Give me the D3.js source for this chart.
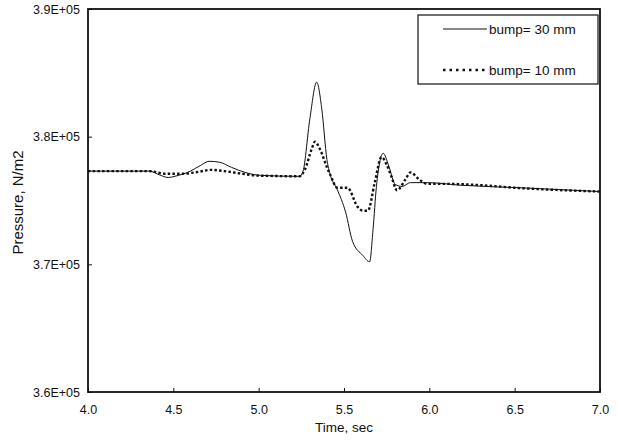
<!DOCTYPE html>
<html>

<head>
    <style>
        body { margin: 0; background: #fff; }
        text { font-family: "Liberation Sans", Arial, sans-serif; fill: #111; }
    </style>
</head>

<body>
    <script src="https://d3js.org/d3.v7.min.js"></script>
    <div id="chart"></div>
    <script>
        const width = 618
        const height = 441
        const padding = { top: 9, left: 88, right: 18, bottom: 49 }

        // time (sec) and pressure (N/m2)
        const time30 = [4.0, 4.36, 4.42, 4.47, 4.51, 4.60, 4.66, 4.71, 4.77, 4.84, 4.92, 5.01, 5.24, 5.26, 5.30, 5.34, 5.37, 5.40, 5.42, 5.46, 5.51, 5.55, 5.61, 5.65, 5.67, 5.69, 5.73, 5.76, 5.80, 5.84, 5.89, 5.99, 6.18, 6.53, 7.0]
        const pres30 = [377300, 377300, 377000, 376800, 376900, 377300, 377750, 378070, 378000, 377600, 377200, 376970, 376890, 377300, 381400, 384270, 382150, 378200, 377000, 375870, 374060, 371800, 370700, 370200, 372700, 376100, 378700, 377800, 376260, 376100, 376400, 376400, 376200, 376000, 375700]

        const time10 = [4.0, 4.36, 4.45, 4.55, 4.65, 4.72, 4.80, 4.90, 5.0, 5.24, 5.27, 5.31, 5.33, 5.36, 5.40, 5.42, 5.46, 5.52, 5.58, 5.61, 5.64, 5.68, 5.72, 5.75, 5.78, 5.81, 5.86, 5.89, 5.94, 5.99, 6.1, 6.3, 6.5, 7.0]
        const pres10 = [377300, 377300, 377100, 377100, 377250, 377400, 377300, 377100, 376950, 376900, 377400, 379000, 379600, 379000, 377600, 377000, 376000, 376000, 374500, 374200, 374200, 376400, 378400, 377800, 376800, 375800, 376650, 377200, 376650, 376300, 376300, 376200, 376000, 375700]

        const xTicks = [4.0, 4.5, 5.0, 5.5, 6.0, 6.5, 7.0]
        const yTicks = [360000, 370000, 380000, 390000]
        const seriesNames = ["bump= 30 mm", "bump= 10 mm"]

        const svg = d3.select("#chart").append("svg").attr("width", width).attr("height", height)

        const x = d3.scaleLinear().domain([4, 7]).range([padding.left, width - padding.right])
        const y = d3.scaleLinear().domain([360000, 390000]).range([height - padding.bottom, padding.top])

        const yFormat = d => (d / 100000).toFixed(1) + "E+05"

        // axes, ticks pointing inward
        svg.append("g")
            .attr("transform", "translate(0," + (height - padding.bottom) + ")")
            .call(d3.axisBottom(x).tickValues(xTicks).tickSize(-4).tickPadding(13).tickFormat(d3.format(".1f")))
            .call(g => g.select(".domain").remove())
            .call(g => g.selectAll("text").attr("font-size", "12.5px").attr("font-family", "Liberation Sans, Arial"))

        svg.append("g")
            .attr("transform", "translate(" + padding.left + ",0)")
            .call(d3.axisLeft(y).tickValues(yTicks).tickSize(-4).tickPadding(8).tickFormat(yFormat))
            .call(g => g.select(".domain").remove())
            .call(g => g.selectAll("text").attr("font-size", "12.5px").attr("font-family", "Liberation Sans, Arial"))

        svg.selectAll(".tick line").attr("stroke", "#111").attr("stroke-width", 1)

        // frame
        svg.append("rect")
            .attr("x", padding.left)
            .attr("y", padding.top)
            .attr("width", width - padding.left - padding.right)
            .attr("height", height - padding.top - padding.bottom)
            .attr("fill", "none")
            .attr("stroke", "#111")
            .attr("stroke-width", 1.8)

        const line = d3.line().x(d => x(d[0])).y(d => y(d[1])).curve(d3.curveMonotoneX)

        svg.append("path")
            .datum(d3.zip(time30, pres30))
            .attr("d", line)
            .attr("fill", "none")
            .attr("stroke", "#111")
            .attr("stroke-width", 1)

        svg.append("path")
            .datum(d3.zip(time10, pres10))
            .attr("d", line)
            .attr("fill", "none")
            .attr("stroke", "#111")
            .attr("stroke-width", 2.4)
            .attr("stroke-dasharray", "2.5,2.2")

        // axis titles
        svg.append("text")
            .attr("x", x(5.5))
            .attr("y", 432)
            .attr("text-anchor", "middle")
            .attr("font-size", "13.5px")
            .text("Time, sec")

        svg.append("text")
            .attr("transform", "translate(23," + (y(375000) + 2) + ") rotate(-90)")
            .attr("text-anchor", "middle")
            .attr("font-size", "15px")
            .text("Pressure, N/m2")

        // legend
        const legend = svg.append("g").attr("id", "legend")
        legend.append("rect")
            .attr("x", 418).attr("y", 15)
            .attr("width", 180).attr("height", 69)
            .attr("fill", "#fff")
            .attr("stroke", "#111")
            .attr("stroke-width", 1.2)

        seriesNames.forEach((name, i) => {
            const ly = 29 + i * 41
            legend.append("line")
                .attr("x1", 443).attr("x2", 487)
                .attr("y1", ly).attr("y2", ly)
                .attr("stroke", "#111")
                .attr("stroke-width", i === 0 ? 1 : 2.4)
                .attr("stroke-dasharray", i === 0 ? null : "2.5,4")
            legend.append("text")
                .attr("x", 489).attr("y", ly + 5)
                .attr("font-size", "13.5px")
                .text(name)
        })
    </script>
</body>

</html>
